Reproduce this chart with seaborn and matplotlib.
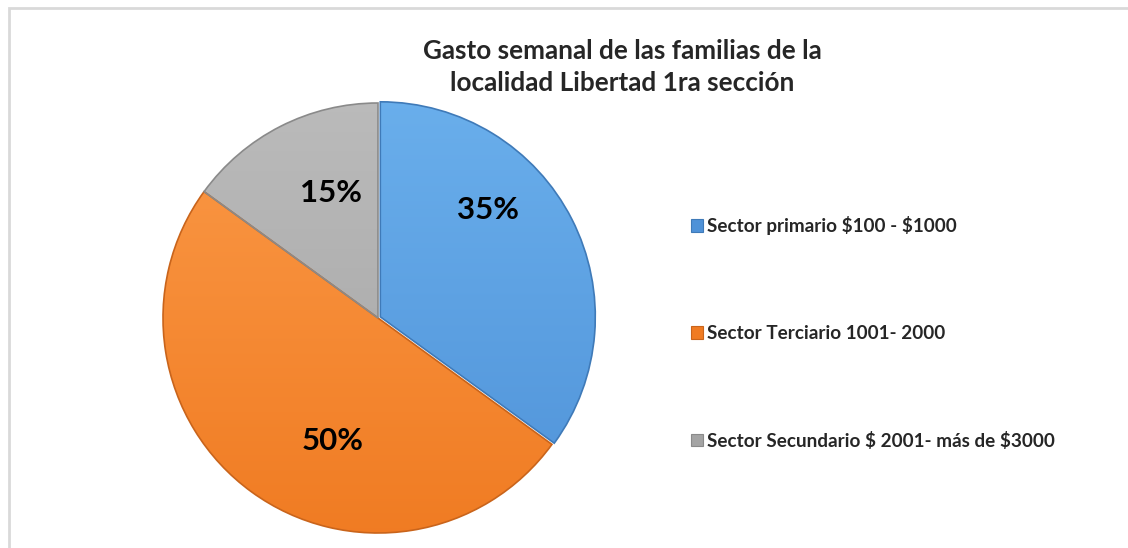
import numpy as np
import matplotlib
matplotlib.use("Agg")
import matplotlib.pyplot as plt
import matplotlib.colors as mcolors
from matplotlib.patches import Rectangle, Patch
import seaborn as sns


# --------------------------------------------------
# Data
# --------------------------------------------------

title = "Gasto semanal de las familias de la\nlocalidad Libertad 1ra sección"

categories = [
    "Sector primario $100 - $1000",
    "Sector Terciario 1001- 2000",
    "Sector Secundario $ 2001- más de $3000",
]
shares = [35, 50, 15]

# light / dark tone of each slice
colors_light = ["#6AAFEC", "#FB9A48", "#BBBBBB"]
colors_dark = ["#4F92D8", "#F07B22", "#A4A4A4"]
colors_edge = ["#3F7AB8", "#C9641B", "#8A8A8A"]

# where Excel put the percentage labels (data units, radius 1)
label_pos = [(0.51, 0.50), (-0.21, -0.57), (-0.22, 0.58)]


# --------------------------------------------------
# Figure
# --------------------------------------------------

sns.set_theme(style="white")
plt.rcParams["font.family"] = ["Lato", "DejaVu Sans"]
plt.rcParams["text.parse_math"] = False

fig = plt.figure(figsize=(11.28, 5.48), dpi=100)
fig.patch.set_facecolor("white")

# light gray chart-area border (runs off the right and bottom)
fig.add_artist(
    Rectangle(
        (8.5 / 1128, -0.05),
        1.2,
        1 - 7.5 / 548 + 0.05,
        transform=fig.transFigure,
        fill=False,
        edgecolor="#D9D9D9",
        linewidth=2,
    )
)

# pie centre at (378, 318) px, radius 215 px, a little margin around it
lim = 1.03
r_px = 215 * lim
ax = fig.add_axes([
    (378 - r_px) / 1128,
    (548 - 318 - r_px) / 548,
    2 * r_px / 1128,
    2 * r_px / 548,
])

wedges, _ = ax.pie(
    shares,
    startangle=90,
    counterclock=False,
    colors=colors_dark,
    explode=[0.012, 0, 0],
    wedgeprops=dict(linewidth=0),
)

# vertical gradient inside each slice
for wedge, light, dark, edge in zip(wedges, colors_light, colors_dark, colors_edge):
    cmap = mcolors.LinearSegmentedColormap.from_list("g", [dark, light])
    grad = np.linspace(0, 1, 256).reshape(-1, 1)
    img = ax.imshow(
        grad,
        cmap=cmap,
        extent=(-1.05, 1.05, -1.05, 1.05),
        origin="lower",
        aspect="auto",
        zorder=2,
    )
    img.set_clip_path(wedge)
    wedge.set_facecolor("none")
    wedge.set_edgecolor(edge)
    wedge.set_linewidth(1.2)
    wedge.set_zorder(3)

for (x, y), value in zip(label_pos, shares):
    ax.text(
        x,
        y,
        f"{value}%",
        ha="center",
        va="center",
        fontsize=22.5,
        fontweight="bold",
        color="black",
        zorder=4,
    )

ax.set_xlim(-lim, lim)
ax.set_ylim(-lim, lim)
ax.set_aspect("equal")
ax.axis("off")

fig.text(
    622 / 1128,
    1 - 67 / 548,
    title,
    ha="center",
    va="center",
    fontsize=18.8,
    fontweight="bold",
    linespacing=1.4,
)

handles = [
    Patch(facecolor=c, edgecolor=e, linewidth=0.8)
    for c, e in zip(colors_dark, colors_edge)
]
fig.legend(
    handles,
    categories,
    loc="center left",
    bbox_to_anchor=(674 / 1128, 1 - 333 / 548),
    frameon=False,
    handlelength=0.65,
    handleheight=0.65,
    handletextpad=0.2,
    labelspacing=4.75,
    prop=dict(weight="bold", size=13.6),
)

fig.savefig("out.png", dpi=100, facecolor="white")
